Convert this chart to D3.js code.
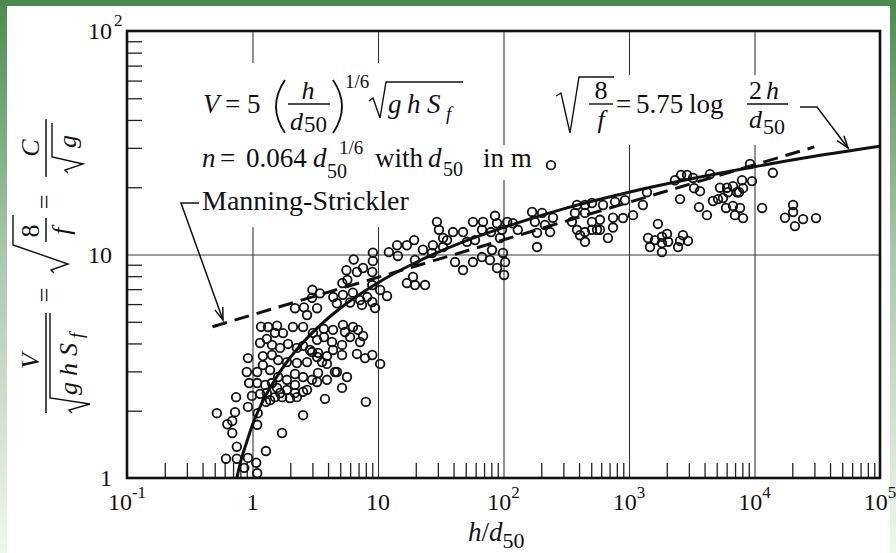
<!DOCTYPE html>
<html>
<head>
<meta charset="utf-8">
<script src="https://cdn.jsdelivr.net/npm/d3@7"></script>
<style>
  html, body { margin: 0; padding: 0; background: #fff; }
  svg { display: block; }
  text { font-family: "Liberation Serif", "Times New Roman", serif; fill: #111; }
</style>
</head>
<body>
<div id="chart"></div>
<script>
const obsShallow = [
  [6.4,9.5],[9.1,10.2],[9.1,9.35],[5.6,8.5],[6.8,8.35],[7.6,8.7],[9.0,8.35],[5.2,7.45],[5.7,7.7],[9.0,7.3],
  [8.2,6.45],[3.0,6.95],[3.45,6.7],[2.98,6.4],[2.18,5.75],[2.57,5.8],[2.72,5.36],[3.27,5.75],[4.4,6.45],[5.25,6.6],
  [6.3,6.75],[4.7,6.05],[6.0,6.1],[7.45,5.95],[9.0,6.13],[9.47,5.76],[7.2,6.25],
  [1.17,4.75],[1.33,4.74],[1.57,4.8],[1.75,4.45],[1.51,4.46],[2.1,4.74],[2.53,4.74],[3.03,4.46],[3.7,4.65],
  [4.38,4.6],[5.26,4.84],[5.46,4.5],[6.32,4.74],[6.93,4.6],[7.6,4.32],[5.98,4.27],[7.19,4.06],[5.17,3.94],
  [4.3,4.06],[3.71,4.27],[3.27,4.15],
  [1.15,4.02],[1.3,4.19],[1.43,3.94],[1.66,3.82],[1.92,3.98],[2.26,3.82],[2.53,3.9],[2.87,3.74],[3.33,3.63],
  [3.92,3.51],[4.38,3.74],[5.17,3.55],[6.8,3.59],[7.88,3.44],[9.0,3.55],[10.4,3.24],
  [0.92,3.44],[1.21,3.51],[1.43,3.55],[1.6,3.37],[1.88,3.3],[2.26,3.27],[2.72,3.3],[2.98,3.66],[3.27,3.48],
  [3.58,3.3],[3.92,3.24],[4.54,2.98],[5.66,2.83],[5.17,2.53],[4.71,2.98],
  [0.9,2.98],[1.09,2.98],[1.21,3.2],[1.38,3.04],[1.6,2.83],[1.88,2.75],[2.18,2.92],[2.53,2.83],[2.98,2.75],
  [3.33,2.95],[3.92,2.75],[2.18,2.61],[2.72,2.48],[3.27,2.69],
  [0.94,2.66],[1.09,2.66],[1.26,2.61],[1.43,2.66],[1.57,2.53],[1.66,2.4],[1.3,2.4],[1.51,2.3],[1.88,2.48],
  [2.18,2.4],[2.53,2.43],[1.99,2.28],[2.26,2.3],[1.72,2.3],[0.99,2.33],[1.15,2.38],[1.38,2.23],[1.28,2.19],
  [3.78,2.26],[2.53,1.91],[8.0,2.19],[1.72,1.59],[1.28,1.32],
  [0.74,2.3],[0.52,1.95],[0.726,1.97],[0.69,1.8],[0.63,1.74],[0.69,1.59],[0.92,2.08],[1.1,1.95],[1.09,1.73],
  [0.75,1.38],[0.615,1.22],[0.75,1.22],[0.92,1.23],[1.07,1.17],[1.09,1.05],[0.86,1.11]
];
const obsMiddle = [
  [29.5,14.0],[30.6,12.9],[33,11.85],[39.6,12.6],[35.5,11.6],[47.6,12.6],[51.2,11.4],[57.1,14.0],[59.3,11.6],
  [68.7,14.0],[67.4,12.9],[85.6,14.9],[88.8,13.8],[79.5,12.6],[97.3,12.9],[107,14.0],[119,13.8],[130,12.9],
  [93.8,11.85],[81,10.47],[99,10.16],[103,9.25],[101,8.1],[88.8,8.7],[78,9.45],[67.4,9.74],[57.1,9.25],
  [47.6,8.52],[41.1,9.25],[33,10.8],[27.4,11.0],[22.8,10.5],[26.9,10.16],[19.7,9.45],[19.4,11.6],[17.0,11.0],
  [14.2,11.0],[14.4,9.85],[12.2,10.25],[17.0,7.45],[19.7,7.3],[23.7,7.3],[19.0,7.93],[11.8,6.52],[10.4,6.94]
];
const obsDeep = [
  [239,25.1],[169,15.5],[203,15.35],[248,14.6],[178,14.0],[185,12.5],[235,12.6],[185,10.8],[214,13.55],
  [1076,15.0],[929,17.5],[774,17.2],[621,16.65],[507,17.0],[446,16.65],[385,16.65],[446,15.35],[507,14.0],
  [371,15.35],[587,14.3],[351,14.0],[385,12.9],[446,12.6],[507,12.9],[556,12.9],[407,12.2],[446,11.4],
  [746,14.6],[746,13.2],[896,14.56],[680,11.85],[587,12.9],
  [9210,25.4],[14000,23.2],[9550,21.3],[7950,21.5],[8100,19.8],[7530,19.0],[6740,20.2],[6040,19.9],[5310,19.9],
  [6150,19.0],[7250,19.0],[5120,17.7],[4670,17.35],[5610,17.9],[5930,16.15],[6740,16.5],[7670,16.15],[6990,15.0],
  [8100,14.55],[3610,16.3],[4180,15.0],[3680,19.2],[3300,19.8],[3240,22.0],[2900,22.7],[2600,22.7],[2325,21.5],
  [2550,17.7],[11500,16.15],[20300,16.65],[20300,15.5],[17500,14.6],[21000,13.4],[24400,14.4],[30900,14.55],
  [1700,13.7],[1420,11.85],[1470,10.8],[1611,11.6],[1830,12.0],[2010,12.35],[1830,11.25],[2050,11.4],[1830,10.25],
  [2690,12.2],[2550,11.5],[2950,11.5],[2460,10.8],[1390,19.0],[1290,16.65],[4420,22.9]
];

// solid curve (log law) and dashed Manning-Strickler line
const logLawCurve = [
  [0.75,1.0],[0.8,1.17],[0.9,1.45],[1,1.73],[1.2,2.19],[1.5,2.74],[2,3.46],[3,4.47],[5,5.75],[10,7.48],
  [20,9.21],[50,11.5],[100,13.2],[300,16.0],[1000,19.0],[3000,21.7],[10000,24.7],[30000,27.5],[100000,30.5]
];
const manningLine = [[0.48,4.75],[30000,30.3]];

const xTickValues = [0.1, 1, 10, 100, 1000, 10000, 100000];
const xTickBase = ["10", "1", "10", "10", "10", "10", "10"];
const xTickExp = ["-1", "", "", "2", "3", "4", "5"];
const yTickValues = [1, 10, 100];
const yTickBase = ["1", "10", "10"];
const yTickExp = ["", "", "2"];
const xGridValues = [1, 10, 100, 1000, 10000];
const yGridValues = [10];

const W = 896, H = 553;
const frame = {left: 127, right: 880, top: 31, bottom: 478};

const svg = d3.select("#chart").append("svg")
  .attr("width", W).attr("height", H);

// slide background edges
const defs = svg.append("defs");
const edge = defs.append("linearGradient").attr("id", "edge")
  .attr("x1", 0).attr("y1", 0).attr("x2", 0).attr("y2", 1);
edge.append("stop").attr("offset", "0%").attr("stop-color", "#4b8b4f");
edge.append("stop").attr("offset", "45%").attr("stop-color", "#a9c7aa");
edge.append("stop").attr("offset", "100%").attr("stop-color", "#f2f6f2");

svg.append("rect").attr("width", W).attr("height", H).attr("fill", "#fff");
svg.append("rect").attr("x", 0).attr("y", 0).attr("width", 7).attr("height", H).attr("fill", "url(#edge)");
svg.append("rect").attr("x", 890).attr("y", 0).attr("width", 6).attr("height", H).attr("fill", "url(#edge)");
svg.append("rect").attr("x", 0).attr("y", 0).attr("width", W).attr("height", 6).attr("fill", "#4b8b4f");

const x = d3.scaleLog().domain([0.1, 1e5]).range([frame.left, frame.right]);
const y = d3.scaleLog().domain([1, 100]).range([frame.bottom, frame.top]);

// grid lines
svg.append("g")
  .attr("transform", "translate(0," + frame.bottom + ")")
  .call(d3.axisBottom(x).tickValues(xGridValues).tickSize(-(frame.bottom - frame.top)).tickFormat(""))
  .call(g => g.select(".domain").remove())
  .selectAll("line").attr("stroke", "#3a3a3a").attr("stroke-width", 1.1);
svg.append("g")
  .attr("transform", "translate(" + frame.left + ",0)")
  .call(d3.axisLeft(y).tickValues(yGridValues).tickSize(-(frame.right - frame.left)).tickFormat(""))
  .call(g => g.select(".domain").remove())
  .selectAll("line").attr("stroke", "#3a3a3a").attr("stroke-width", 1.1);

// white boxes behind the annotations break the grid lines
svg.append("rect").attr("x", 195).attr("y", 63).attr("width", 275).attr("height", 164).attr("fill", "#fff");
svg.append("rect").attr("x", 470).attr("y", 145).attr("width", 75).attr("height", 35).attr("fill", "#fff");
svg.append("rect").attr("x", 553).attr("y", 75).attr("width", 242).attr("height", 70).attr("fill", "#fff");

// minor ticks
const isPow10 = v => Math.abs(Math.log10(v) - Math.round(Math.log10(v))) < 1e-6;
const minorX = x.ticks().filter(v => !isPow10(v));
const minorY = y.ticks().filter(v => !isPow10(v));
svg.append("g")
  .attr("transform", "translate(0," + frame.bottom + ")")
  .call(d3.axisBottom(x).tickValues(minorX).tickSize(-15).tickFormat(""))
  .call(g => g.select(".domain").remove())
  .selectAll("line").attr("stroke", "#222").attr("stroke-width", 1.3);
svg.append("g")
  .attr("transform", "translate(" + frame.left + ",0)")
  .call(d3.axisLeft(y).tickValues(minorY).tickSize(-15).tickFormat(""))
  .call(g => g.select(".domain").remove())
  .selectAll("line").attr("stroke", "#222").attr("stroke-width", 1.3);

// observations
const obs = obsShallow.concat(obsMiddle, obsDeep);
svg.append("g").selectAll("circle").data(obs).join("circle")
  .attr("cx", d => x(d[0]))
  .attr("cy", d => y(d[1]))
  .attr("r", 4.3)
  .attr("fill", "none")
  .attr("stroke", "#111")
  .attr("stroke-width", 1.8);

const line = d3.line().x(d => x(d[0])).y(d => y(d[1])).curve(d3.curveMonotoneX);
svg.append("path").attr("d", line(manningLine))
  .attr("fill", "none").attr("stroke", "#111").attr("stroke-width", 3)
  .attr("stroke-dasharray", "15,8");
svg.append("path").attr("d", line(logLawCurve))
  .attr("fill", "none").attr("stroke", "#111").attr("stroke-width", 3);

// frame
svg.append("rect")
  .attr("x", frame.left).attr("y", frame.top)
  .attr("width", frame.right - frame.left).attr("height", frame.bottom - frame.top)
  .attr("fill", "none").attr("stroke", "#111").attr("stroke-width", 2.6);

// tick labels
const xl = svg.append("g").selectAll("text").data(xTickValues).join("text")
  .attr("x", d => x(d)).attr("y", 510)
  .attr("text-anchor", "middle").attr("font-size", 24);
xl.append("tspan").text((d, i) => xTickBase[i]);
xl.append("tspan").attr("dy", -12).attr("font-size", 17).text((d, i) => xTickExp[i]);

svg.append("g").selectAll("text").data(yTickValues).join("text")
  .attr("x", 112).attr("y", d => y(d) + 8)
  .attr("text-anchor", "end").attr("font-size", 24)
  .text((d, i) => yTickBase[i]);
svg.append("g").selectAll("text").data(yTickValues).join("text")
  .attr("x", 114).attr("y", d => y(d) - 5)
  .attr("font-size", 17)
  .text((d, i) => yTickExp[i]);

// helpers for the formulas
function put(parent, px, py, str, size, italic, anchor) {
  return parent.append("text").attr("x", px).attr("y", py)
    .attr("font-size", size)
    .attr("font-style", italic ? "italic" : "normal")
    .attr("text-anchor", anchor || "start")
    .text(str);
}
function stroke(parent, d, w) {
  return parent.append("path").attr("d", d).attr("fill", "none")
    .attr("stroke", "#111").attr("stroke-width", w || 1.4);
}
function arrow(parent, from, tip) {
  const a = Math.atan2(tip[1] - from[1], tip[0] - from[0]);
  const L = 13, s = 0.33;
  const p1 = [tip[0] - L * Math.cos(a - s), tip[1] - L * Math.sin(a - s)];
  const p2 = [tip[0] - L * Math.cos(a + s), tip[1] - L * Math.sin(a + s)];
  stroke(parent, "M" + p1 + "L" + tip + "L" + p2, 1.5);
}

const ann = svg.append("g");

// V = 5 (h/d50)^(1/6) sqrt(g h Sf)
put(ann, 203, 113, "V", 27, true);
put(ann, 225, 113, "=", 27);
put(ann, 247, 113, "5", 27);
stroke(ann, "M285,80 Q267,106.5 285,133", 1.8);
put(ann, 308, 99, "h", 26, true, "middle");
stroke(ann, "M288,104 L330,104", 1.4);
put(ann, 290, 130, "d", 26, true);
put(ann, 304, 132, "50", 23);
stroke(ann, "M333,80 Q351,106.5 333,133", 1.8);
put(ann, 345, 88, "1/6", 19);
stroke(ann, "M369,101 L373,98 L380,118 L386,82 L463,82", 1.4);
put(ann, 388, 113, "g", 27, true);
put(ann, 407, 113, "h", 27, true);
put(ann, 427, 113, "S", 27, true);
put(ann, 446, 120, "f", 19, true);

// n = 0.064 d50^(1/6) with d50 in m
put(ann, 202, 167, "n", 27, true);
put(ann, 220, 167, "=", 27);
put(ann, 246, 167, "0.064", 27);
put(ann, 313, 167, "d", 27, true);
put(ann, 327, 178, "50", 20);
put(ann, 339, 154, "1/6", 19);
put(ann, 375, 167, "with", 27);
put(ann, 428, 167, "d", 27, true);
put(ann, 443, 176, "50", 20);
put(ann, 483, 167, "in m", 27);

// Manning-Strickler label and leader
put(ann, 202, 210, "Manning-Strickler", 28);
stroke(ann, "M199,203 L181,203 L223,320", 1.5);
arrow(ann, [181, 203], [223, 320]);

// sqrt(8/f) = 5.75 log (2h/d50)
stroke(ann, "M556,96 L561,93 L570,133 L579,77 L614,77", 1.4);
put(ann, 601, 99, "8", 26, false, "middle");
stroke(ann, "M589,104 L613,104", 1.4);
put(ann, 601, 128, "f", 26, true, "middle");
put(ann, 616, 113, "=", 27);
put(ann, 636, 113, "5.75", 27);
put(ann, 689, 113, "log", 27);
put(ann, 749, 99, "2", 26);
put(ann, 766, 99, "h", 26, true);
stroke(ann, "M747,104 L788,104", 1.4);
put(ann, 749, 128, "d", 26, true);
put(ann, 763, 134, "50", 22);
stroke(ann, "M800,107 L817,107 L848,148", 1.5);
arrow(ann, [817, 107], [848, 148]);

// x axis title
const xt = svg.append("text").attr("x", 468).attr("y", 541).attr("font-size", 27);
xt.append("tspan").attr("font-style", "italic").text("h");
xt.append("tspan").text("/");
xt.append("tspan").attr("font-style", "italic").text("d");
xt.append("tspan").attr("dy", 7).attr("font-size", 22).text("50");

// y axis title, laid out along the rotated baseline
const yt = svg.append("g").attr("transform", "translate(46,413) rotate(-90)");
put(yt, 52, -7, "V", 26, true, "middle");
stroke(yt, "M0,0 L100,0", 1.5);
stroke(yt, "M0,26 L3,23 L9,44 L15,4 L100,4", 1.4);
put(yt, 18, 31, "g", 26, true);
put(yt, 37, 31, "h", 26, true);
put(yt, 57, 31, "S", 26, true);
put(yt, 75, 37, "f", 18, true);
put(yt, 118, 7, "=", 26, false, "middle");
stroke(yt, "M140,8 L143,5 L149,22 L168,-33 L198,-33", 1.4);
put(yt, 182, -7, "8", 26, false, "middle");
stroke(yt, "M171,0 L195,0", 1.5);
put(yt, 182, 24, "f", 26, true, "middle");
put(yt, 211, 7, "=", 26, false, "middle");
put(yt, 265, -7, "C", 26, true, "middle");
stroke(yt, "M236,0 L294,0", 1.5);
stroke(yt, "M240,22 L243,19 L249,37 L256,6 L290,6", 1.4);
put(yt, 265, 30, "g", 26, true);
</script>
</body>
</html>
